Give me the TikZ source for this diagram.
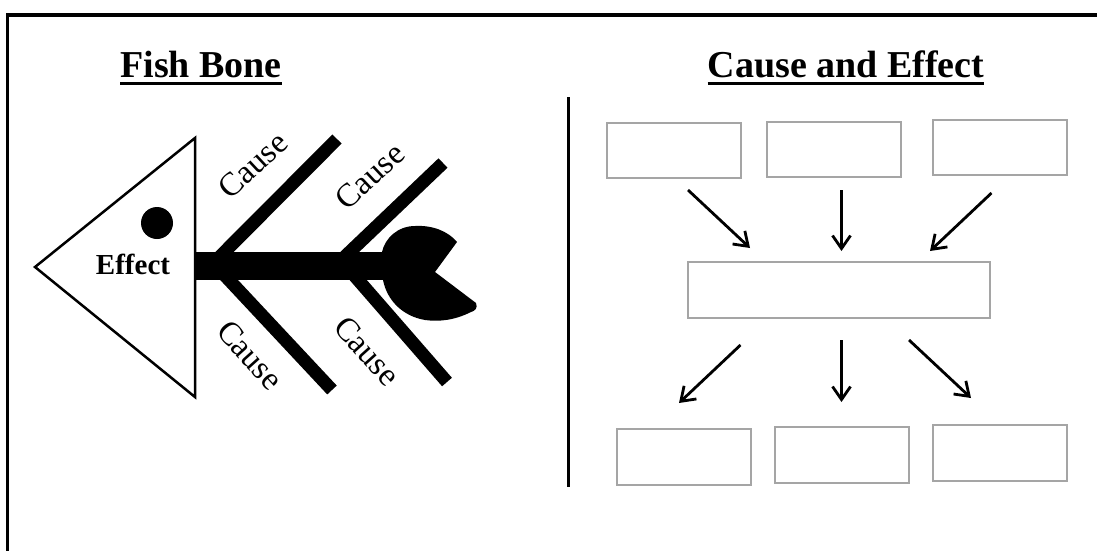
\documentclass[tikz,border=0pt]{standalone}
\usepackage{fontspec}
\setmainfont{Liberation Serif}
\usetikzlibrary{arrows.meta}
\definecolor{boxgray}{RGB}{165,165,165}
\begin{document}
\begin{tikzpicture}[x=1pt,y=-1pt,
  titletext/.style={font=\fontsize{38}{40}\selectfont\bfseries, inner sep=0, anchor=base},
  causetext/.style={font=\fontsize{33}{35}\selectfont, inner sep=0},
  bone/.style={line width=13, line cap=butt},
  cebox/.style={draw=boxgray, line width=1.5, minimum width=134, minimum height=55, inner sep=0},
  arr/.style={line width=2.8, -{Straight Barb[length=13pt,width=18pt]}}]
\useasboundingbox (0,0) rectangle (1097,550);
% frame
\draw[line width=3.5, line join=miter] (7.5,552) -- (7.5,15) -- (1099,15);
% titles
\node[titletext] (fb) at (201,77) {Fish Bone};
\draw[line width=3] ([yshift=-6]fb.base west) -- ([yshift=-6]fb.base east);
\node[titletext] (ce) at (846,77) {Cause and Effect};
\draw[line width=3] ([yshift=-6]ce.base west) -- ([yshift=-6]ce.base east);
% fish head
\draw[line width=2.5, line join=miter] (35,267) -- (195,138) -- (195,397) -- cycle;
\fill (157,223) circle (16);
\node[font=\fontsize{29}{31}\selectfont\bfseries, inner sep=0] (eff) at (133,264) {Effect};
% spine
\fill (195,252) rectangle (390,280);
% bones
\draw[bone] (210.5,266) -- (337,139);
\draw[bone] (335,266) -- (443,163);
\draw[bone] (216,266) -- (332,390);
\draw[bone] (346,266) -- (447,382);
% tail
\fill (382,252) .. controls (385,238) and (398,226) .. (415,226)
  .. controls (432,225) and (448,231) .. (457,242) -- (435,272) -- (476,303)
  .. controls (478,308) and (475,311) .. (471,312)
  .. controls (455,320) and (440,322) .. (425,320)
  .. controls (402,316) and (387,300) .. (383,280) -- cycle;
% cause labels
\node[causetext, rotate=43] (c1) at (253,165) {Cause};
\node[causetext, rotate=43] (c2) at (370,176) {Cause};
\node[causetext, rotate=-48] (c3) at (250,355) {Cause};
\node[causetext, rotate=-48] (c4) at (367,351) {Cause};
% separator
\draw[line width=3] (568.5,97) -- (568.5,487);
% boxes
\node[cebox] (t1) at (674,150.5) {};
\node[cebox] (t2) at (834,149.5) {};
\node[cebox] (t3) at (1000,147.5) {};
\node[cebox, minimum width=302, minimum height=56] (m) at (839,290) {};
\node[cebox, minimum height=56] (b1) at (684,457) {};
\node[cebox, minimum height=56] (b2) at (842,455) {};
\node[cebox, minimum height=56] (b3) at (1000,453) {};
% arrow ends
\coordinate (a1s) at (688,190);   \coordinate (a1e) at (750,248);
\coordinate (a2s) at (841.5,190); \coordinate (a2e) at (841.5,251);
\coordinate (a3s) at (991.5,193); \coordinate (a3e) at (930,251);
\coordinate (b1s) at (740.5,345); \coordinate (b1e) at (679,403);
\coordinate (b2s) at (841.5,340); \coordinate (b2e) at (841.5,402);
\coordinate (b3s) at (909,340);   \coordinate (b3e) at (971,398);
\draw[arr] (a1s) -- (a1e);
\draw[arr] (a2s) -- (a2e);
\draw[arr] (a3s) -- (a3e);
\draw[arr] (b1s) -- (b1e);
\draw[arr] (b2s) -- (b2e);
\draw[arr] (b3s) -- (b3e);
\end{tikzpicture}
\end{document}
